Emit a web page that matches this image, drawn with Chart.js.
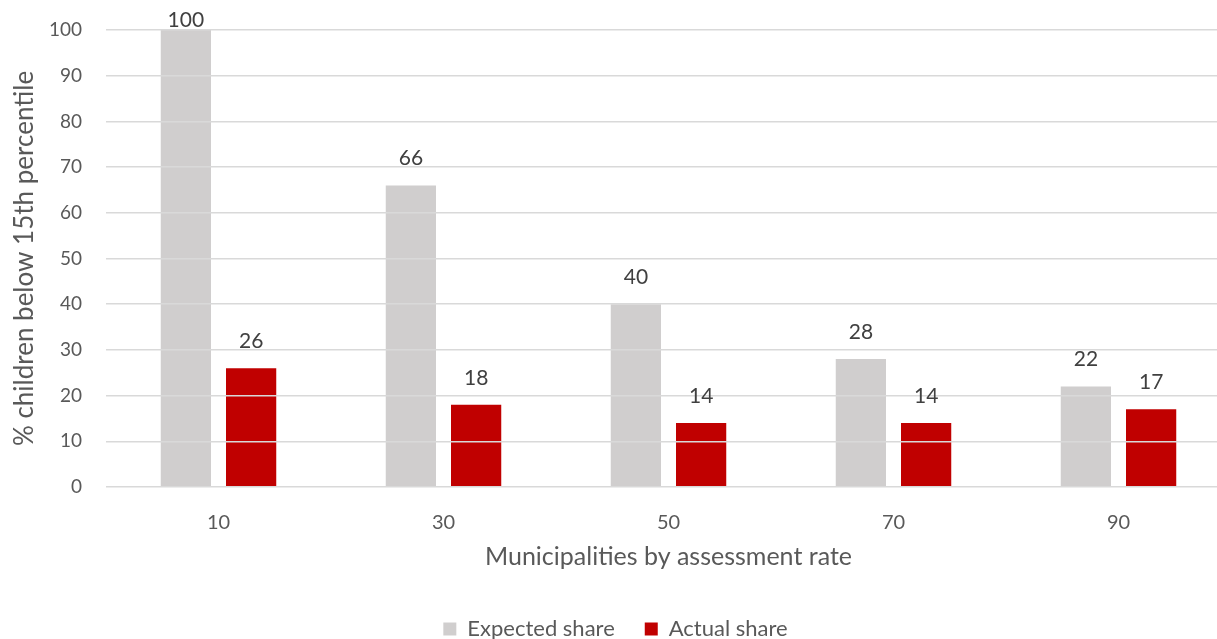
<!DOCTYPE html>
<html>
<head>
<meta charset="utf-8">
<script src="https://cdn.jsdelivr.net/npm/chart.js@4/dist/chart.umd.min.js"></script>
<style>
  html, body { margin: 0; padding: 0; background: #fff; overflow: hidden; }
  #wrap { width: 1232px; height: 650px; }
</style>
</head>
<body>
<div id="wrap"><canvas id="chart" width="1232" height="650"></canvas></div>
<script>
const rateLabels = ['10', '30', '50', '70', '90'];
const expectedShare = [100, 66, 40, 28, 22];
const actualShare = [26, 18, 14, 14, 17];
const yTicks = [0, 10, 20, 30, 40, 50, 60, 70, 80, 90, 100];

const FONT = 'Lato, "Open Sans", sans-serif';

// value labels over the bars (no datalabels plugin available)
// drawn in afterDraw so they sit above the gridlines too
const barValues = {
    id: 'barValues',
    afterDraw(chart) {
        const ctx = chart.ctx;
        ctx.save();
        ctx.font = `21px ${FONT}`;
        ctx.fillStyle = '#404040';
        ctx.textAlign = 'center';
        ctx.textBaseline = 'middle';
        chart.data.datasets.forEach((ds, i) => {
            chart.getDatasetMeta(i).data.forEach((bar, j) => {
                const y = Math.max(bar.y - 27, 20);
                ctx.fillText(ds.data[j], bar.x, y);
            });
        });
        ctx.restore();
    }
};

const ctx = document.getElementById('chart').getContext('2d');
new Chart(ctx, {
    type: 'bar',
    data: {
        labels: rateLabels,
        datasets: [
            {
                label: 'Expected share',
                data: expectedShare,
                backgroundColor: '#d0cece',
                categoryPercentage: 0.58,
                barPercentage: 0.77
            },
            {
                label: 'Actual share',
                data: actualShare,
                backgroundColor: '#c00000',
                categoryPercentage: 0.58,
                barPercentage: 0.77
            }
        ]
    },
    options: {
        responsive: false,
        animation: false,
        layout: { padding: { top: 0, right: 1, left: 0, bottom: 0 } },
        plugins: {
            legend: {
                position: 'bottom',
                labels: {
                    boxWidth: 13,
                    boxHeight: 13,
                    padding: 30,
                    color: '#595959',
                    font: { family: FONT, size: 22 }
                }
            },
            tooltip: { enabled: false }
        },
        scales: {
            x: {
                grid: { display: false },
                border: { display: false },
                afterFit: (scale) => { scale.height = 101; },
                ticks: {
                    color: '#595959',
                    font: { family: FONT, size: 20 },
                    padding: 16
                },
                title: {
                    display: true,
                    text: 'Municipalities by assessment rate',
                    color: '#595959',
                    font: { family: FONT, size: 25 },
                    padding: { top: 4, bottom: 16 }
                }
            },
            y: {
                min: 0,
                max: 100,
                afterBuildTicks: (scale) => { scale.ticks = yTicks.map(v => ({ value: v })); },
                afterFit: (scale) => {
                    scale.width = 106;
                    scale.paddingTop = 30;
                },
                // gridlines sit on top of the bars, like the original
                grid: { color: '#d9d9d9', lineWidth: 1.5, drawTicks: false, z: 1 },
                border: { display: false },
                ticks: {
                    color: '#595959',
                    font: { family: FONT, size: 19 },
                    padding: 24
                },
                title: {
                    display: true,
                    text: '% children below 15th percentile',
                    color: '#595959',
                    font: { family: FONT, size: 26 },
                    padding: { top: 9, bottom: 0 }
                }
            }
        }
    },
    plugins: [barValues]
});
</script>
</body>
</html>
